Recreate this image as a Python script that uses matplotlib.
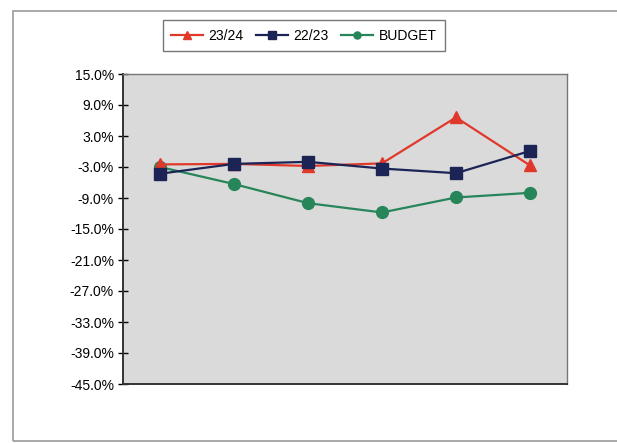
"""Monthly variance chart: 23/24 vs 22/23 vs budget"""
import matplotlib
matplotlib.use("Agg")
import matplotlib.pyplot as plt
from matplotlib.patches import Rectangle
from matplotlib.ticker import FuncFormatter

plt.rcParams["font.family"] = ["Liberation Sans", "DejaVu Sans"]

periods = ["P1", "P2", "P3", "P4", "P5", "P6"]
y2324 = [-2.5, -2.4, -2.8, -2.3, 6.6, -2.7]
y2223 = [-4.3, -2.4, -2.0, -3.3, -4.2, 0.1]
budget = [-3.0, -6.3, -10.0, -11.8, -8.9, -8.0]
yticks = [15, 9, 3, -3, -9, -15, -21, -27, -33, -39, -45]

fig = plt.figure(figsize=(6.17, 4.43), dpi=100)
# outer chart frame
fig.patches.append(Rectangle((13 / 617, 2 / 443), 1.2, 430 / 443, transform=fig.transFigure,
                             fill=False, edgecolor="#9a9a9a", linewidth=1.2))

ax = fig.add_axes([123 / 617, 1 - 384 / 443, 444 / 617, 310 / 443])
ax.set_facecolor("#dadada")
x = list(range(len(periods)))
ax.plot(x, y2324, "-^", color="#e0392b", markersize=8.5, linewidth=1.6, label="23/24", zorder=3)
ax.plot(x, y2223, "-s", color="#1c2456", markersize=8.5, linewidth=1.6, label="22/23", zorder=4)
ax.plot(x, budget, "-o", color="#27855a", markersize=8.5, linewidth=1.6, label="BUDGET", zorder=2)

ax.set_xlim(-0.5, len(periods) - 0.5)
ax.set_ylim(-45, 15)
ax.set_yticks(yticks)
ax.yaxis.set_major_formatter(FuncFormatter(lambda v, p: f"{v:.1f}%"))
ax.set_xticks([])
ax.tick_params(axis="y", length=7, width=1, labelsize=10, pad=3, direction="inout")
for s in ["left", "bottom"]:
    ax.spines[s].set_linewidth(1.4)
    ax.spines[s].set_color("#333333")
for s in ["top", "right"]:
    ax.spines[s].set_linewidth(1.0)
    ax.spines[s].set_color("#777777")

leg = fig.legend(loc="center", bbox_to_anchor=(304 / 617, 1 - 35.5 / 443), ncol=3, frameon=True,
                 fancybox=False, edgecolor="#555555", fontsize=10, handlelength=2.3,
                 columnspacing=0.9, handletextpad=0.4, borderpad=0.6, markerscale=0.6)
leg.get_frame().set_linewidth(1.0)

plt.savefig("out.png", dpi=100)
plt.close()
